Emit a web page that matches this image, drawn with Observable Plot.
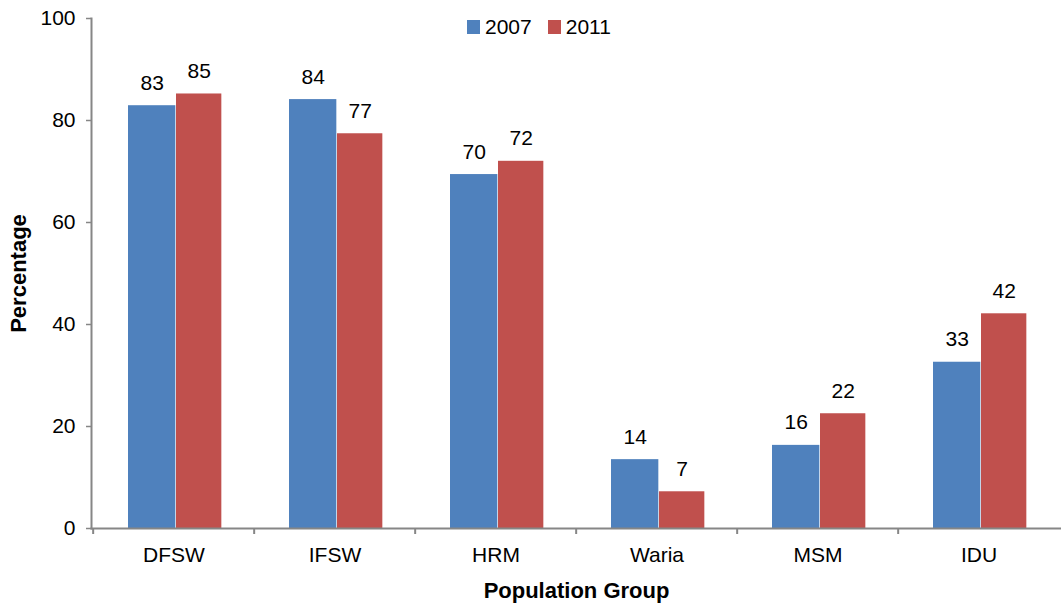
<!DOCTYPE html>
<html><head><meta charset="utf-8">
<script src="https://cdn.jsdelivr.net/npm/d3@7"></script>
<script src="https://cdn.jsdelivr.net/npm/@observablehq/plot@0.6"></script>
<style>
body{margin:0;background:#fff;font-family:"Liberation Sans",Arial,sans-serif;}
#wrap{position:relative;width:1061px;height:606px;}
#legend{position:absolute;left:467px;top:16px;display:flex;align-items:center;font-size:21px;color:#000;line-height:22px;}
#legend .sw{width:13px;height:14px;display:inline-block;margin-right:5px;}
#legend .it{display:flex;align-items:center;margin-right:16px;}
</style></head><body><div id="wrap"><div id="chart"></div><div id="legend"></div></div>
<script>
const groups = ["DFSW","IFSW","HRM","Waria","MSM","IDU"];
const years = ["2007","2011"];
const values2007 = [82.9,84.1,69.4,13.5,16.3,32.6];
const values2011 = [85.2,77.4,72.0,7.2,22.5,42.1];
const labels2007 = ["83","84","70","14","16","33"];
const labels2011 = ["85","77","72","7","22","42"];
const yTicks = [0,20,40,60,80,100];
const colors = ["#4F81BD","#C0504D"];
const xTitle = "Population Group";
const yTitle = "Percentage";

const W=1061,H=606,mL=91,mR=0,mT=18,mB=78;
const step=(W-mL-mR)/groups.length;
const d07 = groups.map((g,i)=>({group:g,value:values2007[i],label:labels2007[i]}));
const d11 = groups.map((g,i)=>({group:g,value:values2011[i],label:labels2011[i]}));
const axisColor="#868686";

const chart = Plot.plot({
  width:W,height:H,marginLeft:mL,marginRight:mR,marginTop:mT,marginBottom:mB,
  style:{fontFamily:"Liberation Sans, Arial, sans-serif",fontSize:"21px",color:"#000",background:"#fff",overflow:"visible"},
  x:{domain:groups,padding:0,axis:null},
  y:{domain:[0,100],axis:null},
  marks:[
    Plot.barY(d07,{x:"group",y:"value",fill:colors[0],insetLeft:35,insetRight:step-83}),
    Plot.barY(d11,{x:"group",y:"value",fill:colors[1],insetLeft:83,insetRight:step-129}),
    Plot.text(d07,{x:"group",y:"value",text:"label",dx:59-step/2,dy:-16,lineAnchor:"bottom",fontSize:21,fill:"#000"}),
    Plot.text(d11,{x:"group",y:"value",text:"label",dx:106-step/2,dy:-16,lineAnchor:"bottom",fontSize:21,fill:"#000"}),
    Plot.axisY({ticks:yTicks,tickSize:5,tickPadding:11,stroke:axisColor,strokeWidth:1.5,fontSize:21,label:null,tickFormat:d=>String(d),fill:"#000"}),
    Plot.axisX({tickSize:0,tickPadding:19,fontSize:21,label:null,fill:"#000"}),
    Plot.axisX({tickSize:6,dx:-step/2,tickFormat:()=>"",label:null,stroke:axisColor,strokeWidth:2}),
    Plot.frame({anchor:"left",stroke:axisColor,strokeWidth:2}),
    Plot.frame({anchor:"bottom",stroke:axisColor,strokeWidth:2}),
    Plot.text([xTitle],{frameAnchor:"bottom",lineAnchor:"middle",dy:62,fontSize:22,fontWeight:"bold",fill:"#000"}),
    Plot.text([yTitle],{frameAnchor:"left",textAnchor:"middle",lineAnchor:"middle",dx:-73,rotate:-90,fontSize:22,fontWeight:"bold",fill:"#000"})
  ]
});
document.getElementById("chart").appendChild(chart);

const leg=document.getElementById("legend");
years.forEach((y,i)=>{
  const it=document.createElement("span");it.className="it";
  const sw=document.createElement("span");sw.className="sw";sw.style.background=colors[i];
  it.appendChild(sw);it.appendChild(document.createTextNode(y));leg.appendChild(it);
});
</script></body></html>
